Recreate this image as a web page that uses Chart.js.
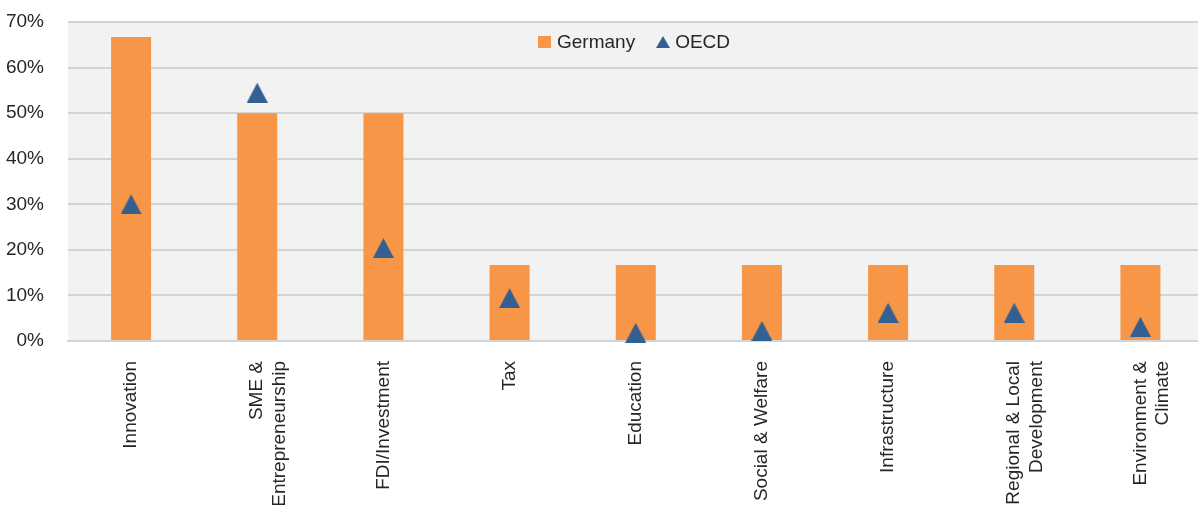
<!DOCTYPE html>
<html>
<head>
<meta charset="utf-8">
<script src="https://cdn.jsdelivr.net/npm/chart.js@4/dist/chart.umd.min.js"></script>
<style>
  body { margin: 0; background: #fff; font-family: "Liberation Sans", Arial, sans-serif; }
  #wrap { position: relative; width: 1198px; height: 505px; overflow: hidden; }
  #legend { position: absolute; top: 31px; left: 538px; display: flex; align-items: center; font-size: 19px; color: #262626; }
  #legend .sq { width: 13px; height: 12px; background: #F79646; margin-right: 6px; }
  #legend .tri { width: 0; height: 0; border-left: 7px solid transparent; border-right: 7px solid transparent; border-bottom: 12px solid #335F91; margin: 0 5px 0 21px; }
</style>
</head>
<body>
<div id="wrap">
  <!-- plot area runs slightly past the right edge, as in the original crop -->
  <canvas id="chart" width="1204" height="505"></canvas>
  <div id="legend"><span class="sq"></span><span>Germany</span><span class="tri"></span><span>OECD</span></div>
</div>
<script>
const categories = [
  'Innovation',
  ['SME &', 'Entrepreneurship'],
  'FDI/Investment',
  'Tax',
  'Education',
  'Social & Welfare',
  'Infrastructure',
  ['Regional & Local', 'Development'],
  ['Environment &', 'Climate']
];
const germany = [66.7, 50, 50, 16.7, 16.7, 16.7, 16.7, 16.7, 16.7];
const oecd = [30, 54.5, 20.4, 9.4, 1.8, 2.2, 6.2, 6.2, 3.1];
const yTicks = [0, 10, 20, 30, 40, 50, 60, 70];

// triangle marker centred on its box, like the spreadsheet marker
const tri = document.createElement('canvas');
tri.width = 21; tri.height = 20;
const tctx = tri.getContext('2d');
tctx.fillStyle = '#335F91';
tctx.beginPath();
tctx.moveTo(10.5, 0);
tctx.lineTo(21, 20);
tctx.lineTo(0, 20);
tctx.closePath();
tctx.fill();

// grey plot background
const plotBg = {
  id: 'plotBg',
  beforeDraw(chart) {
    const a = chart.chartArea;
    const ctx = chart.ctx;
    ctx.save();
    ctx.fillStyle = '#F2F2F2';
    ctx.fillRect(a.left, a.top, a.right - a.left, a.bottom - a.top);
    ctx.restore();
  }
};

const font = { family: '"Liberation Sans", Arial, sans-serif', size: 19 };

new Chart(document.getElementById('chart').getContext('2d'), {
  data: {
    labels: categories,
    datasets: [
      {
        type: 'line',
        label: 'OECD',
        data: oecd,
        showLine: false,
        pointStyle: tri,
        // tiny radius: the image sets the marker size, and no extra layout padding is added
        pointRadius: 0.5,
        pointBorderWidth: 0,
        pointHoverRadius: 0.5,
        clip: false,
        order: 0
      },
      {
        type: 'bar',
        label: 'Germany',
        data: germany,
        backgroundColor: '#F79646',
        categoryPercentage: 1,
        barPercentage: 0.317,
        order: 1
      }
    ]
  },
  options: {
    responsive: false,
    animation: false,
    layout: { padding: { top: 22, right: 0, left: 0, bottom: 0 } },
    plugins: {
      legend: { display: false },
      tooltip: { enabled: false }
    },
    scales: {
      x: {
        grid: { display: false },
        border: { color: '#D4D4D4', width: 2 },
        ticks: { minRotation: 90, maxRotation: 90, padding: 12, color: '#262626', font: font, autoSkip: false },
        afterFit(scale) {
          scale.height = 164;
          scale.paddingLeft = 0;
          scale.paddingRight = 0;
        }
      },
      y: {
        min: 0,
        max: 70,
        afterBuildTicks(scale) { scale.ticks = yTicks.map(v => ({ value: v })); },
        grid: { color: '#D4D4D4', lineWidth: 2, drawTicks: false },
        border: { display: false },
        ticks: { padding: 24, color: '#262626', font: font, callback: v => v + '%' },
        afterFit(scale) {
          scale.width = 68;
          scale.paddingTop = 0;
          scale.paddingBottom = 0;
        }
      }
    }
  },
  plugins: [plotBg]
});
</script>
</body>
</html>
